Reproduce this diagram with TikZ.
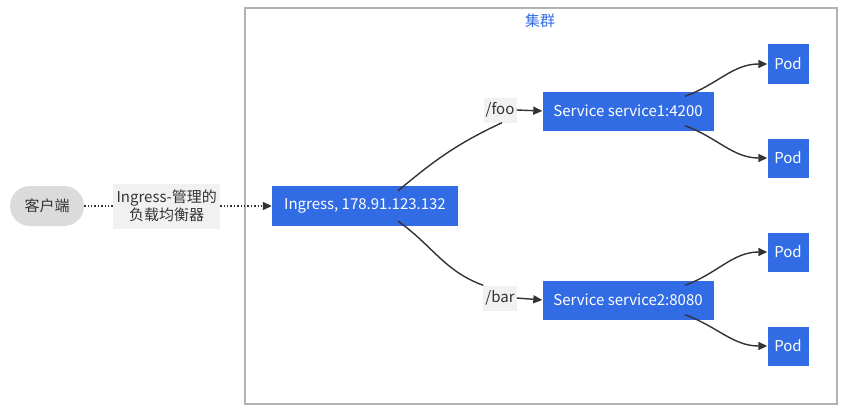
\documentclass[tikz,border=0pt]{standalone}
\usepackage{fontspec}
\setmainfont{Noto Sans CJK SC}
\usetikzlibrary{arrows.meta}
\definecolor{kblue}{HTML}{326CE5}
\definecolor{linec}{HTML}{333333}
\begin{document}
\begin{tikzpicture}[x=1pt, y=-1pt, font=\fontsize{15}{18}\selectfont,
  box/.style = {draw=none, fill=kblue, text=white, inner sep=0pt, minimum height=39pt},
  pod/.style = {box, minimum width=41pt},
  lbl/.style = {fill=gray!11, text=linec, inner sep=2pt},
  link/.style = {draw=linec, line width=1.4pt, -{Triangle[length=9pt,width=8pt]}},
  plain/.style = {draw=linec, line width=1.4pt}]
\useasboundingbox (0,0) rectangle (845,412);
\draw[gray!60, line width=1.6pt] (245,8) rectangle (837,404);
\node[text=kblue] (cluster) at (540,21) {集群};

\node[fill=gray!28, text=linec, rounded corners=20pt, minimum width=74pt, minimum height=40pt, inner sep=0pt] (client) at (47,206) {客户端};
\node[box, minimum width=186pt, minimum height=40pt] (ingress) at (365,206) {Ingress, 178.91.123.132};
\node[box, minimum width=171pt] (svc1) at (628,111) {Service service1:4200};
\node[box, minimum width=171pt] (svc2) at (628,300) {Service service2:8080};
\node[pod] (pod1) at (788,64) {Pod};
\node[pod] (pod2) at (788,158) {Pod};
\node[pod] (pod3) at (788,252) {Pod};
\node[pod] (pod4) at (788,346) {Pod};

\draw[link, dotted] (client) -- node[lbl, pos=0.44, align=center, minimum width=107pt, minimum height=45pt] (lb) {Ingress-管理的\\负载均衡器} (ingress);

\node[lbl, minimum width=33pt, minimum height=25pt] (foo) at (500,110) {/foo};
\node[lbl, minimum width=33pt, minimum height=25pt] (bar) at (500,298) {/bar};

% ingress -> services
\draw[plain] ([xshift=33pt,yshift=-5pt]ingress.north) to[out=40, in=205] ([xshift=2pt]foo.south);
\draw[link] (foo.east) -- (svc1.west);
\draw[plain] ([xshift=33pt,yshift=5pt]ingress.south) to[out=-35, in=160] (bar.north west);
\draw[link] (bar.east) -- (svc2.west);

% services -> pods
\draw[link] ([xshift=57pt,yshift=-5pt]svc1.north) to[out=20, in=180] (pod1.west);
\draw[link] ([xshift=57pt,yshift=5pt]svc1.south) to[out=-20, in=180] (pod2.west);
\draw[link] ([xshift=57pt,yshift=-5pt]svc2.north) to[out=20, in=180] (pod3.west);
\draw[link] ([xshift=57pt,yshift=5pt]svc2.south) to[out=-20, in=180] (pod4.west);
\end{tikzpicture}
\end{document}
